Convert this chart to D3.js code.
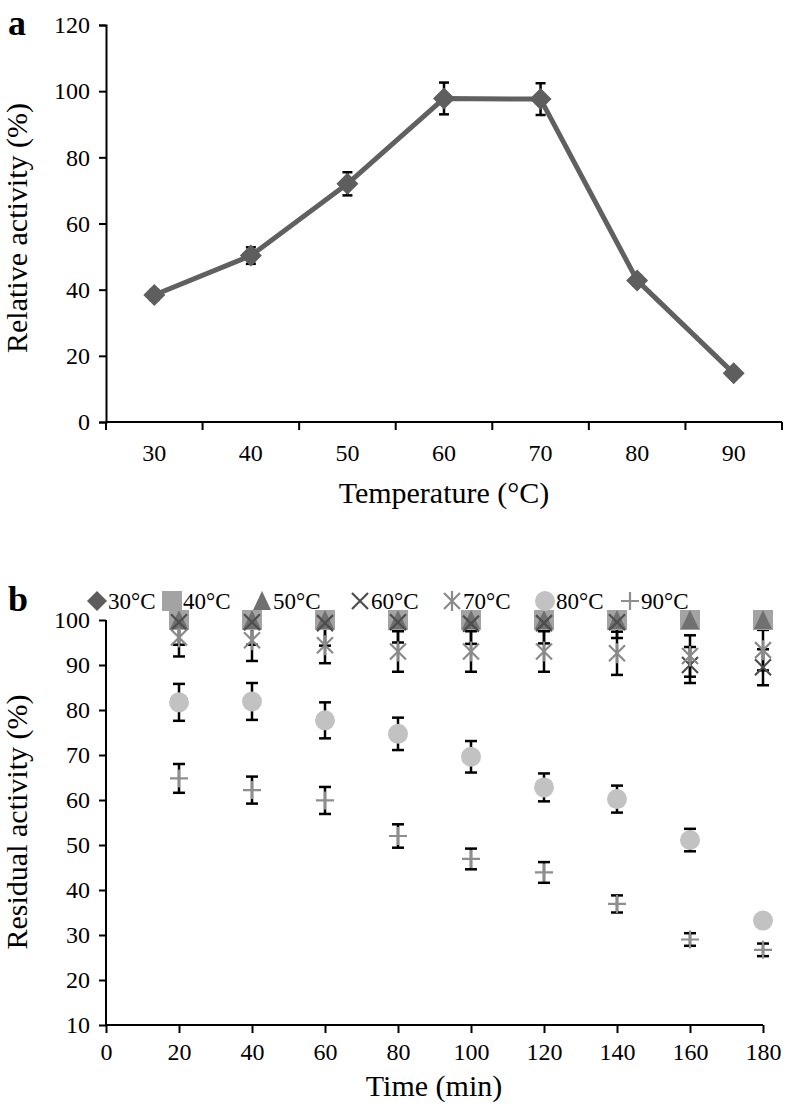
<!DOCTYPE html>
<html><head><meta charset="utf-8">
<script src="https://cdn.jsdelivr.net/npm/d3@7"></script>
<style>body{margin:0;background:#fff}svg{display:block}text{font-family:"Liberation Serif","Times New Roman",serif;fill:#000}</style>
</head><body><svg id="c" width="786" height="1106"></svg>
<script>
// ---- Panel a data ----
const tempCats = ["30","40","50","60","70","80","90"];
const relActivity = [38.4, 50.3, 72.0, 97.8, 97.6, 42.8, 14.7];
const relError = [1.5, 2.5, 3.5, 4.8, 4.8, 1.5, 0];
const yTicksA = [0,20,40,60,80,100,120];

// ---- Panel b data ----
const times = [20,40,60,80,100,120,140,160,180];
const seriesNames = ["30°C","40°C","50°C","60°C","70°C","80°C","90°C"];
const res30 = [100,100,100,100,100,100,100,100,100];
const res40 = [100,100,100,100,100,100,100,100,100];
const res50 = [100,100,100,100,100,100,100,100,100];
const res60 = [99.5,99.5,99.3,99.5,99.2,99.3,99.5,90.0,89.5];
const res70 = [96.1,95.5,94.4,93.0,93.0,93.0,92.6,92.0,93.3];
const res80 = [81.7,81.9,77.7,74.7,69.6,62.8,60.2,51.1,33.2];
const res90 = [64.8,62.2,59.9,52.0,46.9,43.9,36.9,29.0,26.7];
const err30 = [0,0,0,0,0,0,0,0,0];
const err40 = [0,0,0,0,0,0,0,0,0];
const err50 = [0,0,0,0,0,0,0,0,0];
const err60 = [5,5,5,4.5,4.5,4.5,3.5,4,4];
const err70 = [4.2,4.6,4,4.5,4.5,4.5,4.8,4.6,4.5];
const err80 = [4.1,4.1,4.0,3.6,3.5,3.1,3.0,2.5,0];
const err90 = [3.2,3.0,3.0,2.6,2.3,2.3,1.9,1.4,1.4];
const yTicksB = [10,20,30,40,50,60,70,80,90,100];
const xTicksB = [0,20,40,60,80,100,120,140,160,180];

const svg = d3.select("#c");
const TICK_FS = 24, TITLE_FS = 30, LEG_FS = 23, PANEL_FS = 36;

// ================= Panel a =================
const xa = d3.scaleBand().domain(tempCats).range([106,782]);
const ya = d3.scaleLinear().domain([0,120]).range([422,25]);
const ga = svg.append("g");

const gya = ga.append("g").attr("transform","translate(106,0)")
  .call(d3.axisLeft(ya).tickValues(yTicksA).tickSize(7).tickPadding(9));
const gxa = ga.append("g").attr("transform","translate(0,422)");
gxa.append("line").attr("x1",106).attr("x2",782).attr("stroke","#000").attr("stroke-width",2);
const bounds = tempCats.map(c=>xa(c)).concat([xa.range()[1]]);
gxa.selectAll("line.tk").data(bounds).join("line").attr("class","tk")
  .attr("x1",d=>d).attr("x2",d=>d).attr("y1",0).attr("y2",8).attr("stroke","#000").attr("stroke-width",2);
gxa.selectAll("text").data(tempCats).join("text")
  .attr("x",d=>xa(d)+xa.bandwidth()/2).attr("y",39).attr("text-anchor","middle")
  .attr("font-size",TICK_FS).text(d=>d);

gya.select(".domain").attr("stroke","#000").attr("stroke-width",2);
gya.selectAll(".tick line").attr("stroke","#000").attr("stroke-width",2);
gya.selectAll(".tick text").attr("font-size",TICK_FS).attr("font-family","Liberation Serif");

const cx = d=>xa(d)+xa.bandwidth()/2;
const ptsA = tempCats.map((c,i)=>({c, v:relActivity[i], e:relError[i]}));
ptsA.filter(p=>p.e>0).forEach(p=>{
  const x = cx(p.c);
  ga.append("line").attr("x1",x).attr("x2",x).attr("y1",ya(p.v-p.e)).attr("y2",ya(p.v+p.e)).attr("stroke","#000").attr("stroke-width",2.5);
  [p.v-p.e,p.v+p.e].forEach(v=>ga.append("line").attr("x1",x-5).attr("x2",x+5).attr("y1",ya(v)).attr("y2",ya(v)).attr("stroke","#000").attr("stroke-width",2.5));
});
ga.append("path").datum(ptsA)
  .attr("d", d3.line().x(p=>cx(p.c)).y(p=>ya(p.v)))
  .attr("fill","none").attr("stroke","#606060").attr("stroke-width",5).attr("stroke-linejoin","round");
ga.selectAll("path.dm").data(ptsA).join("path").attr("class","dm")
  .attr("transform",p=>`translate(${cx(p.c)},${ya(p.v)})`)
  .attr("d","M0,-11L11,0L0,11L-11,0Z").attr("fill","#5e5e5e");

ga.append("text").attr("x",8).attr("y",35).attr("font-size",PANEL_FS).attr("font-weight","bold").text("a");
ga.append("text").attr("transform","translate(27,228) rotate(-90)").attr("text-anchor","middle")
  .attr("font-size",TITLE_FS).text("Relative activity (%)");
ga.append("text").attr("x",444).attr("y",503).attr("text-anchor","middle").attr("font-size",TITLE_FS).text("Temperature (°C)");

// ================= Panel b =================
const xb = d3.scaleLinear().domain([0,180]).range([106,763]);
const yb = d3.scaleLinear().domain([10,100]).range([1025,620]);
const gb = svg.append("g");

const gyb = gb.append("g").attr("transform","translate(106,0)")
  .call(d3.axisLeft(yb).tickValues(yTicksB).tickSize(7).tickPadding(9));
const gxb = gb.append("g").attr("transform","translate(0,1025)")
  .call(d3.axisBottom(xb).tickValues(xTicksB).tickSize(8).tickPadding(10));
[gyb,gxb].forEach(g=>{
  g.select(".domain").attr("stroke","#000").attr("stroke-width",2).attr("d", g===gyb ? "M0,620V1025" : "M106,0H763");
  g.selectAll(".tick line").attr("stroke","#000").attr("stroke-width",2);
  g.selectAll(".tick text").attr("font-size",TICK_FS).attr("font-family","Liberation Serif");
});

const colors = ["#5c5c5c","#a3a3a3","#707070","#4d4d4d","#8a8a8a","#c2c2c2","#8e8e8e"];
const shapes = ["diamond","square","triangle","x","star","circle","plus"];
const resAll = [res30,res40,res50,res60,res70,res80,res90];
const errAll = [err30,err40,err50,err60,err70,err80,err90];

function marker(g, shape, color, x, y){
  const t = `translate(${x},${y})`;
  if(shape==="diamond") g.append("path").attr("transform",t).attr("d","M0,-10L10,0L0,10L-10,0Z").attr("fill",color);
  else if(shape==="square") g.append("rect").attr("x",x-10).attr("y",y-10).attr("width",20).attr("height",20).attr("fill",color);
  else if(shape==="triangle") g.append("path").attr("transform",t).attr("d","M0,-10L9,9L-9,9Z").attr("fill",color);
  else if(shape==="x") g.append("path").attr("transform",t).attr("d","M-8,-8L8,8M8,-8L-8,8").attr("stroke",color).attr("stroke-width",2.2).attr("fill","none");
  else if(shape==="star") g.append("path").attr("transform",t).attr("d","M-8,-8L8,8M8,-8L-8,8M0,-10V10").attr("stroke",color).attr("stroke-width",2.2).attr("fill","none");
  else if(shape==="circle") g.append("circle").attr("cx",x).attr("cy",y).attr("r",10).attr("fill",color);
  else if(shape==="plus") g.append("path").attr("transform",t).attr("d","M-9,0H9M0,-9V9").attr("stroke",color).attr("stroke-width",2.2).attr("fill","none");
}

const gErr = gb.append("g");
resAll.forEach((vals,si)=>{
  vals.forEach((v,i)=>{
    const e = errAll[si][i]; if(!e) return;
    const x = xb(times[i]);
    gErr.append("line").attr("x1",x).attr("x2",x).attr("y1",yb(v-e)).attr("y2",yb(Math.min(v+e,100))).attr("stroke","#000").attr("stroke-width",2.5);
    [v-e, v+e].filter(w=>w<=100).forEach(w=>gErr.append("line").attr("x1",x-6).attr("x2",x+6).attr("y1",yb(w)).attr("y2",yb(w)).attr("stroke","#000").attr("stroke-width",2.5));
  });
});
const gMk = gb.append("g");
resAll.forEach((vals,si)=>{
  vals.forEach((v,i)=>marker(gMk, shapes[si], colors[si], xb(times[i]), yb(v)));
});

const legX = [97,172,262,360,452,545,630];
const gLeg = gb.append("g");
seriesNames.forEach((n,i)=>{
  marker(gLeg, shapes[i], colors[i], legX[i], 601);
  gLeg.append("text").attr("x",legX[i]+11).attr("y",609).attr("font-size",LEG_FS).text(n);
});

gb.append("text").attr("x",8).attr("y",611).attr("font-size",PANEL_FS).attr("font-weight","bold").text("b");
gb.append("text").attr("transform","translate(27,822) rotate(-90)").attr("text-anchor","middle")
  .attr("font-size",TITLE_FS).text("Residual activity (%)");
gb.append("text").attr("x",434).attr("y",1096).attr("text-anchor","middle").attr("font-size",TITLE_FS).text("Time (min)");
</script></body></html>
